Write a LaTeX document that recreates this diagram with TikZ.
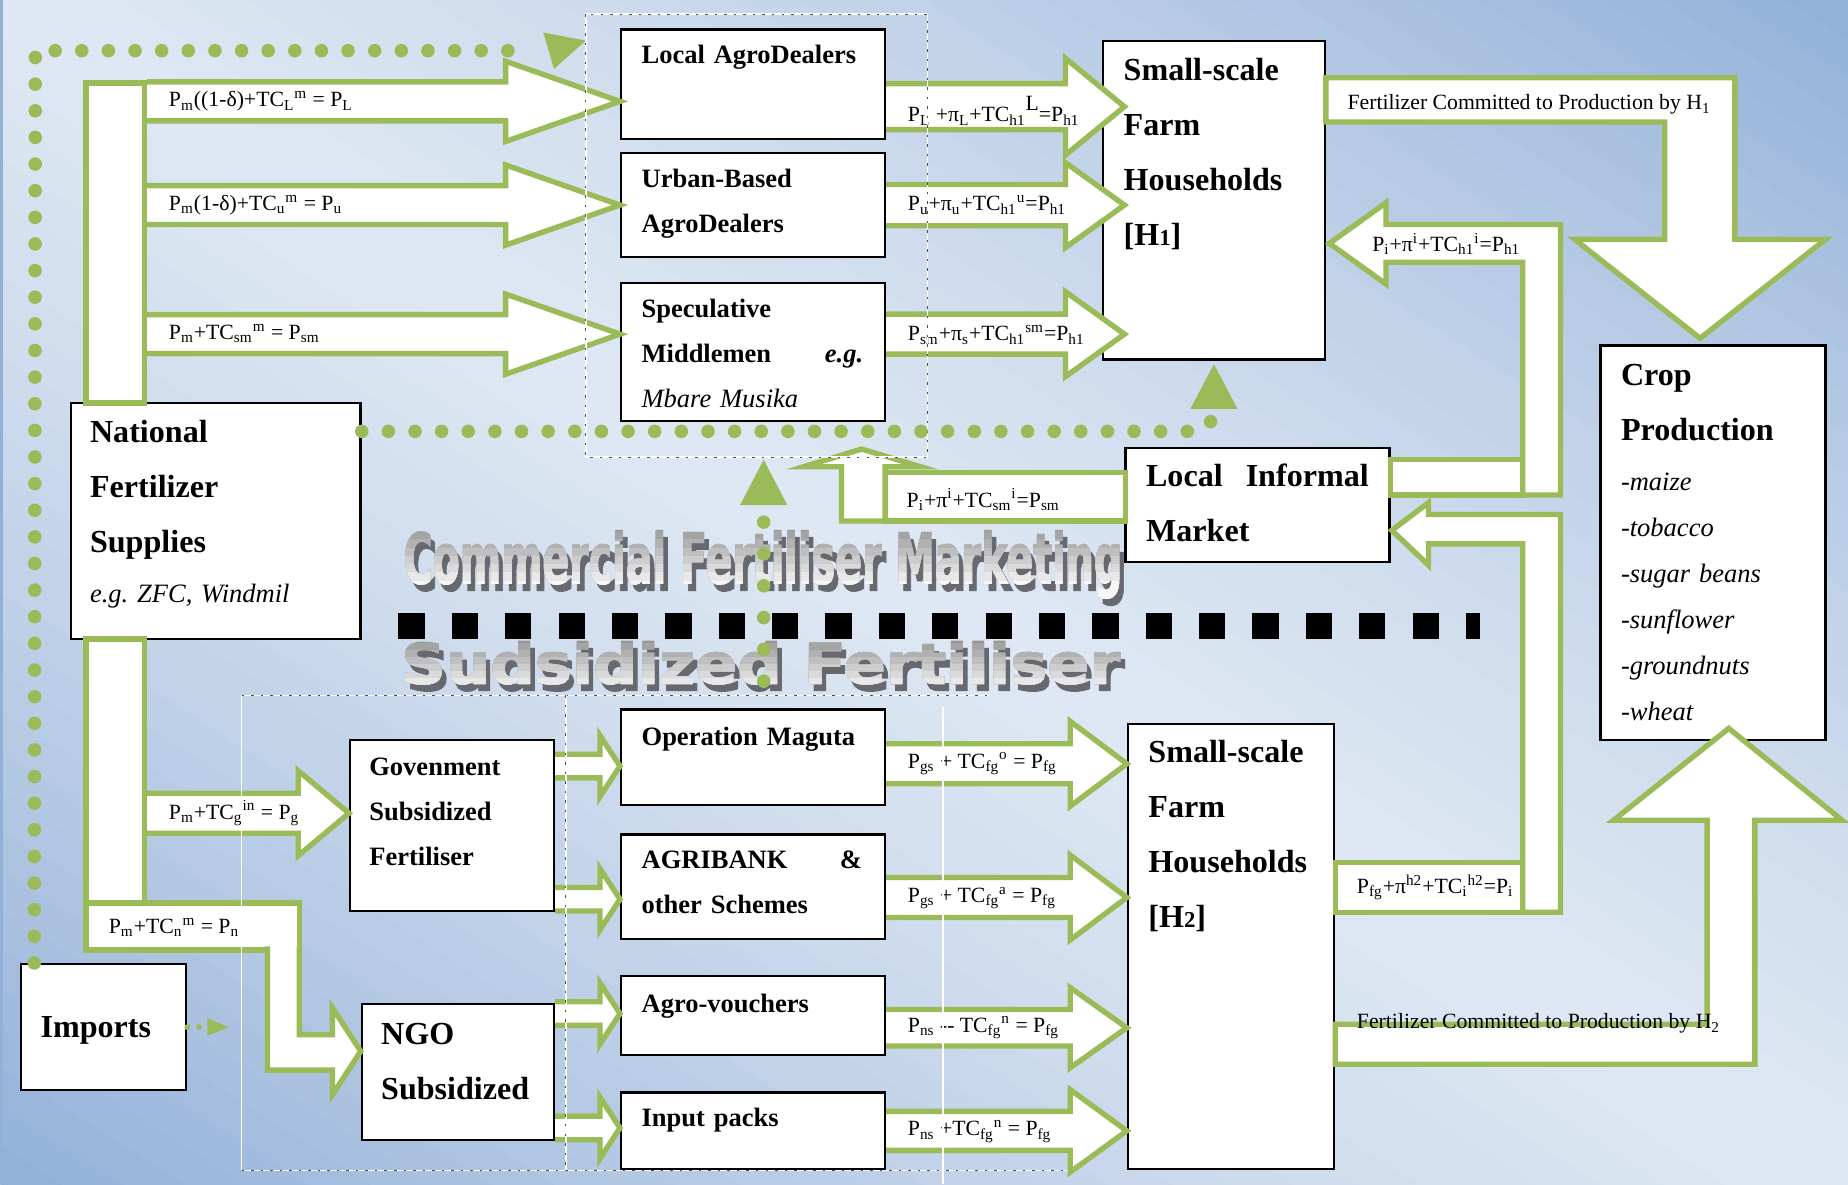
\documentclass[tikz,border=0pt]{standalone}
\usepackage{graphicx}
\usepackage{fontspec}
\setmainfont{Liberation Serif}
\newfontfamily\artfont{DejaVu Sans}[BoldFeatures={FakeBold=1.6}]
\usetikzlibrary{calc}

\definecolor{agreen}{RGB}{155,187,89}
\definecolor{bgblue}{RGB}{146,177,216}
\definecolor{bglight}{RGB}{222,231,243}
\definecolor{shadowgray}{RGB}{104,105,110}
\definecolor{artgray}{RGB}{150,150,150}

\newcommand{\boxbig}{\fontsize{15.5}{26.6}\selectfont\bfseries}
\newcommand{\boxmed}{\fontsize{12.8}{21.8}\selectfont\bfseries}
\newcommand{\cropit}{\fontsize{12.8}{22.2}\selectfont\itshape}
\newcommand{\eqsize}{\fontsize{10.5}{12}\selectfont}
\newcommand{\subs}[1]{\textsubscript{#1}}
\newcommand{\sups}[1]{\textsuperscript{#1}}
\newcommand{\commtext}{\resizebox{12.2cm}{0.9cm}{\artfont\bfseries Commercial Fertiliser Marketing}}
\newcommand{\subsidtext}{\resizebox{12.2cm}{0.72cm}{\artfont\bfseries Sudsidized Fertiliser}}

% fleche pleine: depart, pointe, y, demi-tige, demi-tete, longueur tete
\newcommand{\rightfat}[6]{%
  \path[fatarr] ($(#1 |- 0,#3)+(0,-#4)$) -- ($(#2 |- 0,#3)+(-#6,-#4)$)
    -- ($(#2 |- 0,#3)+(-#6,-#5)$) -- (#2 |- 0,#3) -- ($(#2 |- 0,#3)+(-#6,#5)$)
    -- ($(#2 |- 0,#3)+(-#6,#4)$) -- ($(#1 |- 0,#3)+(0,#4)$);}

\tikzset{
  box/.style={draw=black, fill=white, line width=1.1pt, inner sep=0pt},
  btxt/.style={anchor=base west, inner sep=0pt, text width=3.76cm, align=left},
  fatarr/.style={fill=white, draw=agreen, line width=2.6pt},
  gbar/.style={fill=white, draw=agreen, line width=2.6pt, inner sep=0pt},
  eqlbl/.style={anchor=west, inner sep=0pt, font=\eqsize},
  dotpath/.style={draw=agreen, line width=0.23cm, line cap=round, dash pattern=on 0pt off 0.452cm},
  dframe/.style={draw=white, line width=0.8pt, postaction={draw=black!70, line width=0.45pt, dash pattern=on 1.2pt off 3.4pt}},
  wline/.style={draw=white, line width=0.8pt},
  art/.style={anchor=base west, inner sep=0pt},
}

\begin{document}
\begin{tikzpicture}[x=0.02cm, y=-0.02cm]

    % Fond
    \useasboundingbox (0,0) rectangle (1568,1005);
    \begin{scope}
        \clip (0,0) rectangle (1568,1005);
        \foreach \i in {0,...,59}{
            \pgfmathsetmacro{\ta}{\i/60}
            \pgfmathsetmacro{\tb}{(\i+1.1)/60}
            \pgfmathsetmacro{\mix}{100*(1-(abs(2*(\i+0.5)/60-1))^1.3)}
            \fill[bglight!\mix!bgblue] ({1568*\ta-1568},{-1005*\ta}) -- ({1568*\ta+1568},{2010-1005*\ta})
                -- ({1568*\tb+1568},{2010-1005*\tb}) -- ({1568*\tb-1568},{-1005*\tb}) -- cycle;
        }
    \end{scope}
    \draw[bgblue, line width=0.06cm] (1,0) -- (1,1005);

    % Titres
    \node[art, text=shadowgray] (comm-sh) at (346,501) {\commtext};
    \foreach \i in {0,...,7}{
        \pgfmathsetmacro{\tint}{100-13*\i}
        \begin{scope}
            \clip (330,{444+7*\i}) rectangle (975,522);
            \node[art, text=artgray!\tint!white] (comm-\i) at (342,495) {\commtext};
        \end{scope}
    }
    \node[art, text=shadowgray] (subs-sh) at (344,586) {\subsidtext};
    \foreach \i in {0,...,7}{
        \pgfmathsetmacro{\tint}{100-13*\i}
        \begin{scope}
            \clip (330,{540+6*\i}) rectangle (975,600);
            \node[art, text=artgray!\tint!white] (subs-\i) at (340,580) {\subsidtext};
        \end{scope}
    }

    % Separation
    \draw[line width=0.452cm, dash pattern=on 0.446cm off 0.46cm] (338,531) -- (1256,531);

    % Boites
    \node[box, minimum width=4.48cm, minimum height=1.86cm] (lad) at (639,71.5) {};
    \node[box, minimum width=4.48cm, minimum height=1.76cm] (uba) at (639,174) {};
    \node[box, minimum width=4.48cm, minimum height=2.34cm] (spm) at (639,298.5) {};
    \node[box, minimum width=3.76cm, minimum height=5.4cm] (hh1) at (1030,170) {};
    \node[box, minimum width=3.82cm, minimum height=6.7cm] (crop) at (1453.5,460.5) {};
    \node[box, minimum width=4.92cm, minimum height=4cm] (nfs) at (183,442) {};
    \node[box, minimum width=4.48cm, minimum height=1.94cm] (lim) at (1067,428.5) {};
    \node[box, minimum width=3.46cm, minimum height=2.9cm] (gov) at (383.5,700.5) {};
    \node[box, minimum width=4.48cm, minimum height=1.62cm] (opm) at (639,642.5) {};
    \node[box, minimum width=4.48cm, minimum height=1.78cm] (agb) at (639,752.5) {};
    \node[box, minimum width=4.48cm, minimum height=1.34cm] (avo) at (639,861.5) {};
    \node[box, minimum width=4.48cm, minimum height=1.3cm] (inp) at (639,959.5) {};
    \node[box, minimum width=3.5cm, minimum height=7.56cm] (hh2) at (1044.5,803) {};
    \node[box, minimum width=3.26cm, minimum height=2.3cm] (ngo) at (388.5,909.5) {};
    \node[box, minimum width=2.8cm, minimum height=2.14cm] (imp) at (88,871.5) {};

    % Circuit commercial
    \node[gbar, minimum width=0.99cm, minimum height=5.43cm] (topbar) at (97.75,206.25) {};
    \rightfat{topbar.east}{lad.west}{86}{16.5}{34}{97}
    \rightfat{topbar.east}{uba.west}{174}{16.5}{34}{97}
    \rightfat{topbar.east}{spm.west}{283.5}{16.5}{34}{97}
    \coordinate (h1in) at ($(hh1.west)+(19,0)$);
    \rightfat{lad.east}{h1in}{90.5}{19.5}{41}{50}
    \rightfat{uba.east}{h1in}{174}{17.5}{36}{50}
    \rightfat{spm.east}{h1in}{283.5}{17}{36}{50}

    % Marche informel
    \path[fatarr] ($(hh1.east |- 0,206.5)+(3,0)$) -- (1176,172) -- (1176,190.5) -- (1324,190.5)
        -- (1324,420) -- (1292,420) -- (1292,222.5) -- (1176,222.5) -- (1176,241) -- cycle;
    \path[fatarr] (lim.east |- 0,390) rectangle (1292,420);
    \path[fatarr] ($(lim.east |- 0,450)+(1,0)$) -- (1212,426.5) -- (1212,436.5) -- (1324,436.5)
        -- (1324,774) -- (1292,774) -- (1292,461.5) -- (1212,461.5) -- (1212,479.5) -- cycle;
    \path[fatarr] (hh2.east |- 0,732) rectangle (1292,774);
    \node[gbar, minimum width=4.08cm, minimum height=0.82cm] (psm) at (853,421.5) {};
    \path[fatarr] (751,442) -- (714,442) -- (714,396) -- (682,396) -- (731,381) -- (781,396) -- (751,396) -- cycle;

    % Production
    \path[fatarr] (hh1.east |- 0,66) -- (1472,66) -- (1472,203) -- (1549,203) -- ($(crop.north)+(-11,-5)$)
        -- (1336,203) -- (1412.5,203) -- (1412.5,103.5) -- (hh1.east |- 0,103.5) -- cycle;
    \path[fatarr] (hh2.east |- 0,903) -- (1489,903) -- (1489,696) -- (1563,696) -- (1466.8,618)
        -- (1369,696) -- (1448.5,696) -- (1448.5,869) -- (hh2.east |- 0,869) -- cycle;

    % Circuit subventionne
    \node[gbar, minimum width=0.99cm, minimum height=4.48cm] (lowbar) at (97.75,654) {};
    \rightfat{lowbar.east}{gov.west}{690}{17}{36}{43}
    \node[gbar, minimum width=3.62cm, minimum height=0.8cm] (pnbox) at (163.5,786) {};
    \path[fatarr] (227,803) -- (227,908) -- (282,908) -- (282,929) -- (ngo.west |- 0,892)
        -- (282,855) -- (282,878) -- (254,878) -- (254,803);
    \rightfat{gov.east}{opm.west}{650}{10}{26}{17}
    \rightfat{gov.east}{agb.west}{763}{10}{26}{17}
    \rightfat{ngo.east}{avo.west}{860}{10}{26}{17}
    \rightfat{ngo.east}{inp.west}{957}{10}{26}{17}
    \rightfat{opm.east}{hh2.west}{648}{17}{36}{48}
    \rightfat{agb.east}{hh2.west}{761.5}{17}{36}{48}
    \rightfat{avo.east}{hh2.west}{872}{15.5}{34}{48}
    \rightfat{inp.east}{hh2.west}{959.5}{16.5}{35}{48}

    % Textes des boites
    \node[btxt, font=\boxmed] (lad-t) at ($(lad.north west)+(18,30)$) {Local AgroDealers};
    \node[btxt, font=\boxmed] (uba-t) at ($(uba.north west)+(18,30)$) {Urban-Based\\AgroDealers};
    \node[btxt, font=\boxmed] (spm-t) at ($(spm.north west)+(18,30)$) {Speculative\\Middlemen\hfill\textit{e.g.}\\{\mdseries\itshape Mbare Musika}};
    \node[btxt, font=\boxbig] (hh1-t) at ($(hh1.north west)+(18,34)$) {Small-scale\\Farm\\Households\\{[}H{\fontsize{11}{11}\selectfont 1}]};
    \node[btxt, font=\boxbig] (crop-t) at ($(crop.north west)+(18,35)$) {Crop\\Production};
    \node[btxt, font=\cropit] (crop-l) at ($(crop.north west)+(18,124)$) {-maize\\-tobacco\\-sugar beans\\-sunflower\\-groundnuts\\-wheat};
    \node[btxt, font=\boxbig] (nfs-t) at ($(nfs.north west)+(17,34)$) {National\\Fertilizer\\Supplies};
    \node[btxt, font=\cropit] (nfs-eg) at ($(nfs.north west)+(17,170)$) {e.g.\ ZFC, Windmil};
    \node[btxt, font=\boxbig, text width=3.78cm] (lim-t) at ($(lim.north west)+(18,33.5)$) {Local\hfill Informal\\Market};
    \node[btxt, font=\boxmed] (gov-t) at ($(gov.north west)+(17,31)$) {Govenment\\Subsidized\\Fertiliser};
    \node[btxt, font=\boxmed] (opm-t) at ($(opm.north west)+(18,31.5)$) {Operation Maguta};
    \node[btxt, font=\boxmed, text width=3.74cm] (agb-t) at ($(agb.north west)+(18,30)$) {AGRIBANK\hfill\&\\other Schemes};
    \node[btxt, font=\boxmed] (avo-t) at ($(avo.north west)+(18,32)$) {Agro-vouchers};
    \node[btxt, font=\boxmed] (inp-t) at ($(inp.north west)+(18,30)$) {Input packs};
    \node[btxt, font=\boxbig] (hh2-t) at ($(hh2.north west)+(18,34)$) {Small-scale\\Farm\\Households\\{[}H{\fontsize{11}{11}\selectfont 2}]};
    \node[btxt, font=\boxbig] (ngo-t) at ($(ngo.north west)+(17,35)$) {NGO\\Subsidized};
    \node[btxt, font=\boxbig] (imp-t) at ($(imp.north west)+(17,63)$) {Imports};

    % Prix
    \node[eqlbl] (eqA1) at (143,86) {P\subs{m}((1-δ)+TC\subs{L}\sups{m} = P\subs{L}};
    \node[eqlbl] (eqA2) at (143,174) {P\subs{m}(1-δ)+TC\subs{u}\sups{m} = P\subs{u}};
    \node[eqlbl] (eqA3) at (143,283) {P\subs{m}+TC\subs{sm}\sups{m} = P\subs{sm}};
    \node[eqlbl] (eqA4) at (770,94) {P\subs{L} +π\subs{L}+TC\subs{h1}\raisebox{1.1ex}{L}=P\subs{h1}};
    \node[eqlbl] (eqA5) at (770,174) {P\subs{u}+π\subs{u}+TC\subs{h1}\sups{u}=P\subs{h1}};
    \node[eqlbl] (eqA6) at (770,284) {P\subs{sm}+π\subs{s}+TC\subs{h1}\sups{sm}=P\subs{h1}};
    \node[eqlbl] (eqPi) at (1164,207) {P\subs{i}+π\sups{i}+TC\subs{h1}\sups{i}=P\subs{h1}};
    \node[eqlbl] (eqPsm) at (769,424) {P\subs{i}+π\sups{i}+TC\subs{sm}\sups{i}=P\subs{sm}};
    \node[eqlbl] (eqPfg) at (1151,753) {P\subs{fg}+π\sups{h2}+TC\subs{i}\sups{h2}=P\subs{i}};
    \node[eqlbl] (eqPg) at (143,690) {P\subs{m}+TC\subs{g}\sups{in} = P\subs{g}};
    \node[eqlbl] (eqPn) at (92,787) {P\subs{m}+TC\subs{n}\sups{m} = P\subs{n}};
    \node[eqlbl] (eqB1) at (770,648) {P\subs{gs} + TC\subs{fg}\sups{o} = P\subs{fg}};
    \node[eqlbl] (eqB2) at (770,762) {P\subs{gs} + TC\subs{fg}\sups{a} = P\subs{fg}};
    \node[eqlbl] (eqB3) at (770,872) {P\subs{ns} -{}- TC\subs{fg}\sups{n} = P\subs{fg}};
    \node[eqlbl] (eqB4) at (770,960) {P\subs{ns} +TC\subs{fg}\sups{n} = P\subs{fg}};
    \node[eqlbl, anchor=base west] (h1use) at (1143,93) {Fertilizer Committed to Production by H\subs{1}};
    \node[eqlbl, anchor=base west] (h2use) at (1151,873) {Fertilizer Committed to Production by H\subs{2}};

    % Cadres
    \draw[dframe] (497,12) rectangle (787,388);
    \draw[wline] (205,590) -- (205,993);
    \draw[dframe] (205,590) -- (840,590);
    \draw[dframe] (205,993) -- (905,993);
    \draw[dframe] (480,590) -- (480,993);
    \draw[wline] (800,600) -- (800,1005);

    % Pointilles
    \draw[dotpath] ($(imp.north west)+(12,0)$) -- (30,43) -- (452,43);
    \fill[agreen] (461,27.5) -- (497,34.5) -- (470,58.5) -- cycle;
    \draw[dotpath] (nfs.east |- 0,366) -- (1012,366) to[out=0, in=-110] (1030,352);
    \fill[agreen] ($(hh1.south)+(0,3)$) -- ++(20,38) -- ++(-40,0) -- cycle;
    \draw[dotpath, dash pattern=on 0pt off 0.54cm] (648,578) -- (648,440);
    \fill[agreen] (648,390) -- (668,428.5) -- (628,428.5) -- cycle;
    \draw[dotpath, line width=0.1cm, dash pattern=on 0pt off 0.2cm] (imp.east) -- ++(10,0);
    \fill[agreen] (176,864) -- (194,871.5) -- (176,879) -- cycle;

\end{tikzpicture}
\end{document}
